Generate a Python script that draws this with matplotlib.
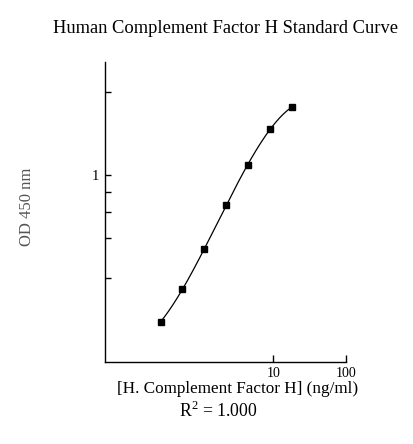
import numpy as np
import matplotlib
matplotlib.use('Agg')
from matplotlib import pyplot as plt
from matplotlib.ticker import FixedLocator, NullFormatter, NullLocator

# * Standard curve data
conc = [0.28125, 0.5625, 1.125, 2.25, 4.5, 9, 18]
od = [0.137, 0.214, 0.368, 0.669, 1.15, 1.88, 2.51]

x_ticks = [10, 100]
x_labels = ['10', '100']
y_major = [1]
y_minor = [3.1, 0.8, 0.61, 0.43, 0.25]

title = 'Human Complement Factor H Standard Curve'
x_title = '[H. Complement Factor H] (ng/ml)'
y_title = 'OD 450 nm'
r2_text = r'R$^2$ = 1.000'

plt.rcParams['font.family'] = ['Liberation Serif', 'DejaVu Serif']
plt.rcParams['mathtext.fontset'] = 'custom'
plt.rcParams['mathtext.rm'] = 'Liberation Serif'

fig = plt.figure(figsize=(4.13, 4.44), dpi=100)
ax = fig.add_axes([0.2542, 0.1854, 0.5836, 0.6743])

# * Smooth fit in log-log space
lx = np.log10(conc)
ly = np.log10(od)
coef = np.polyfit(lx, ly, 3)
fx = np.linspace(lx.min(), lx.max(), 200)
ax.plot(10 ** fx, 10 ** np.polyval(coef, fx), color='black', lw=0.9)
ax.plot(conc, od, 's', color='black', ms=4.5)

ax.set_xscale('log')
ax.set_yscale('log')
ax.set_xlim(0.0484, 100)
ax.set_ylim(0.080, 4.62)

ax.xaxis.set_major_locator(FixedLocator(x_ticks))
ax.set_xticklabels(x_labels)
ax.xaxis.set_minor_locator(NullLocator())
ax.yaxis.set_major_locator(FixedLocator(y_major))
ax.set_yticklabels(['1'])
ax.yaxis.set_minor_locator(FixedLocator(y_minor))
ax.yaxis.set_minor_formatter(NullFormatter())

for s in ['top', 'right']:
    ax.spines[s].set_visible(False)
for s in ['left', 'bottom']:
    ax.spines[s].set_linewidth(1.0)

ax.tick_params(axis='x', which='major', direction='in', length=5, width=1,
               labelsize=10, pad=3.5)
ax.tick_params(axis='y', which='both', direction='in', length=4, width=1,
               labelsize=10.5, pad=4)

fig.text(0.545, 0.935, title, ha='center', va='center', fontsize=13.3)
fig.text(0.576, 0.124, x_title, ha='center', va='center', fontsize=12.3)
fig.text(0.530, 0.074, r2_text, ha='center', va='center', fontsize=12.8)
fig.text(0.066, 0.535, y_title, ha='center', va='center', fontsize=12,
         rotation=90, color='#555555')

fig.savefig('out.png', dpi=100)
